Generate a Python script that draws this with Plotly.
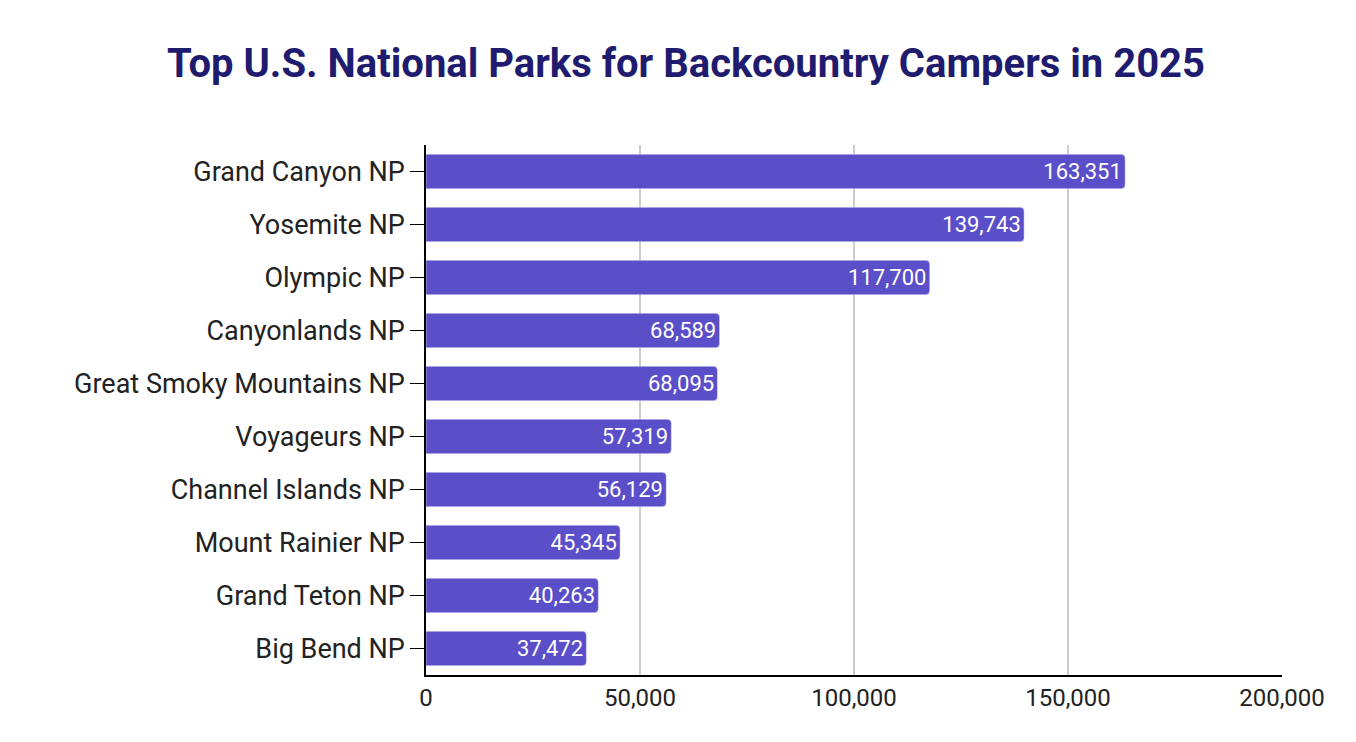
import plotly.graph_objects as go

parks = ["Grand Canyon NP", "Yosemite NP", "Olympic NP", "Canyonlands NP",
         "Great Smoky Mountains NP", "Voyageurs NP", "Channel Islands NP",
         "Mount Rainier NP", "Grand Teton NP", "Big Bend NP"]
campers = [163351, 139743, 117700, 68589, 68095, 57319, 56129, 45345, 40263, 37472]

fig = go.Figure(go.Bar(
    x=campers, y=parks, orientation="h",
    marker=dict(color="#5b4ec9", cornerradius=4),
    text=[f"{v:,}" for v in campers], textposition="inside",
    insidetextanchor="end", textfont=dict(color="white", size=22),
    cliponaxis=False,
))

fig.update_layout(
    width=1356, height=742,
    font=dict(family="Roboto", color="#222"),
    title=dict(text="<b>Top U.S. National Parks for Backcountry Campers in 2025</b>",
               x=0.5, y=0.926, xanchor="center", yanchor="middle",
               yref="container",
               font=dict(size=40, color="#1f1b6e")),
    plot_bgcolor="white", paper_bgcolor="white",
    margin=dict(l=418, r=82, t=137, b=75),
    bargap=0.35, showlegend=False,
)
fig.update_xaxes(range=[0, 200000], dtick=50000, tickformat=",",
                 showgrid=True, gridcolor="#cccccc", gridwidth=1.5,
                 showline=True, linecolor="black", linewidth=1.5,
                 tickfont=dict(size=24), ticks="", zeroline=False,
                 automargin=False)
fig.update_yaxes(autorange="reversed", showline=True, linecolor="black",
                 linewidth=1.5, ticks="outside", ticklen=14, tickcolor="black",
                 tickfont=dict(size=27), showgrid=False, automargin=False)

fig.write_html("out.html")
